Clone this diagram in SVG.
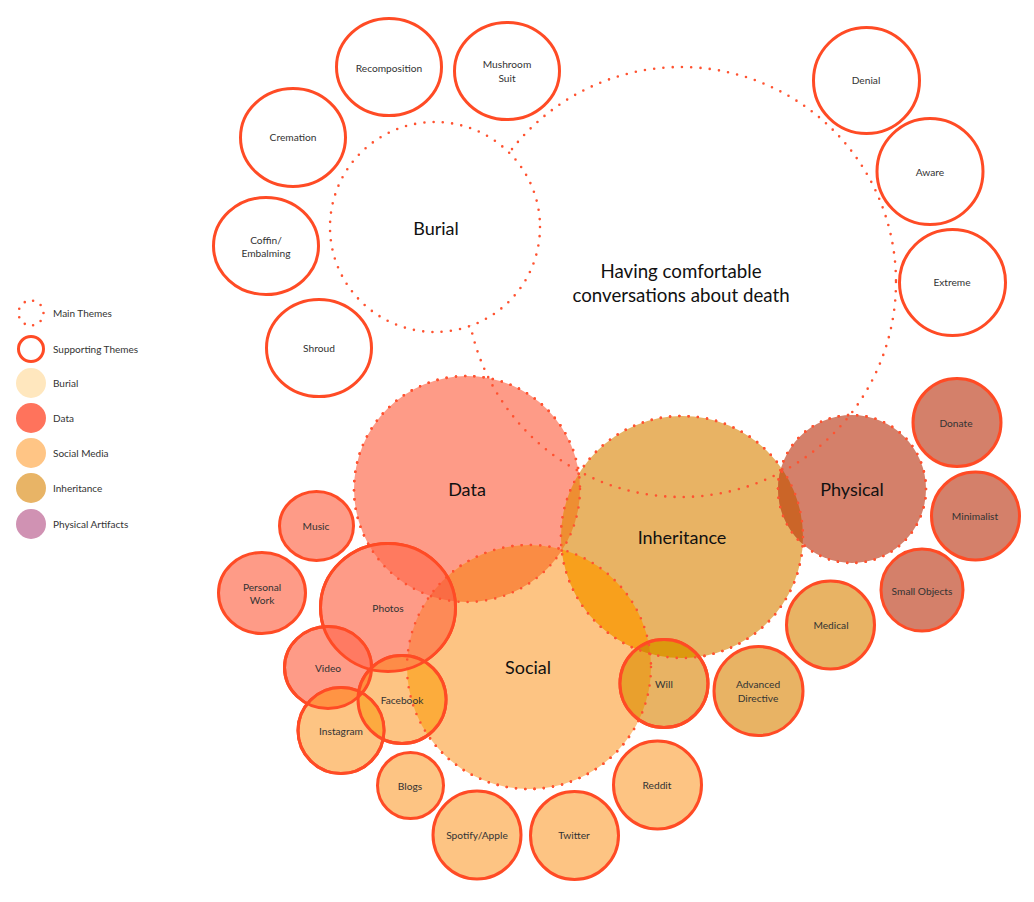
<svg xmlns="http://www.w3.org/2000/svg" width="1034" height="902" viewBox="0 0 1034 902">
<style>
.dot{stroke:#FF5230;stroke-width:2.6;stroke-dasharray:0 9.3;stroke-linecap:round}
.sol{stroke:#FF4B25;stroke-width:3}
.none{fill:none}
.white{fill:#fff}
.fD{fill:#FE9B87}
.fS{fill:#FDC483}
.fI{fill:#E8B364}
.fP{fill:#D4806A}
.lbl{font-family:Lato,"Noto Sans",sans-serif;font-size:10.2px;fill:#333;text-anchor:middle;dominant-baseline:central}
.leg{font-family:Lato,"Noto Sans",sans-serif;font-size:10px;fill:#333;dominant-baseline:central}
.big{font-family:Lato,"Noto Sans",sans-serif;font-size:18px;fill:#111;text-anchor:middle;dominant-baseline:central}
.title{font-family:Lato,"Noto Sans",sans-serif;font-size:18.7px;fill:#111;text-anchor:middle;dominant-baseline:central}
</style>
<defs>
<clipPath id="cD"><circle cx="467" cy="489" r="113"/></clipPath>
<clipPath id="cS"><circle cx="529" cy="667" r="122"/></clipPath>
<clipPath id="cI"><circle cx="682" cy="537" r="121"/></clipPath>
<clipPath id="cPh"><ellipse cx="388" cy="607.5" rx="67.5" ry="64"/></clipPath>
<clipPath id="cV"><ellipse cx="328" cy="667.5" rx="43.5" ry="41"/></clipPath>
<clipPath id="cF"><circle cx="402" cy="699.5" r="44"/></clipPath>
<clipPath id="cColored"><circle cx="467" cy="489" r="113"/><circle cx="682" cy="537" r="121"/><circle cx="852" cy="489" r="74"/></clipPath>
</defs>
<rect width="1034" height="902" fill="#fff"/>

<g id="legend">
<circle cx="31" cy="313" r="12.5" class="white dot" pathLength="90" style="stroke-dasharray:0 10"/>
<text x="53" y="313" class="leg">Main Themes</text>
<circle cx="31" cy="349" r="12.5" class="white sol"/>
<text x="53" y="349" class="leg">Supporting Themes</text>
<circle cx="31" cy="383" r="15" fill="#FFE7BE"/>
<text x="53" y="383" class="leg">Burial</text>
<circle cx="31" cy="418" r="15" fill="#FF735C"/>
<text x="53" y="418" class="leg">Data</text>
<circle cx="31" cy="453" r="15" fill="#FFC585"/>
<text x="53" y="453" class="leg">Social Media</text>
<circle cx="31" cy="488" r="15" fill="#E8B466"/>
<text x="53" y="488" class="leg">Inheritance</text>
<circle cx="31" cy="524" r="15" fill="#D092B3"/>
<text x="53" y="524" class="leg">Physical Artifacts</text>
</g>

<g id="node-main">
<circle cx="681" cy="282" r="215" class="white dot"/>
<text x="681" y="271" class="title">Having comfortable</text>
<text x="681" y="295" class="title">conversations about death</text>
</g>
<g id="node-burial">
<circle cx="435" cy="227" r="105" class="white dot"/>
<text x="436" y="228" class="big">Burial</text>
</g>
<g id="node-recomposition"><ellipse cx="389" cy="67" rx="52.5" ry="48.5" class="white sol"/><text x="389" y="68" class="lbl">Recomposition</text></g>
<g id="node-mushroom"><ellipse cx="507" cy="71" rx="52.5" ry="48.5" class="white sol"/><text x="507" y="64" class="lbl">Mushroom</text><text x="507" y="78" class="lbl">Suit</text></g>
<g id="node-cremation"><ellipse cx="293" cy="137.5" rx="52.5" ry="49" class="white sol"/><text x="293" y="137" class="lbl">Cremation</text></g>
<g id="node-coffin"><ellipse cx="266" cy="246" rx="52.5" ry="48.5" class="white sol"/><text x="266" y="239.5" class="lbl">Coffin/</text><text x="266" y="253" class="lbl">Embalming</text></g>
<g id="node-shroud"><ellipse cx="319" cy="348" rx="52.5" ry="48.5" class="white sol"/><text x="319" y="348" class="lbl">Shroud</text></g>
<g id="node-denial"><circle cx="866.5" cy="80.5" r="53" class="white sol"/><text x="866" y="80" class="lbl">Denial</text></g>
<g id="node-aware"><circle cx="930" cy="171.5" r="53" class="white sol"/><text x="930" y="172" class="lbl">Aware</text></g>
<g id="node-extreme"><circle cx="952.5" cy="282.5" r="53" class="white sol"/><text x="952" y="282" class="lbl">Extreme</text></g>

<g id="node-data">
<circle cx="467" cy="489" r="113" class="fD dot"/>
<text x="467" y="489" class="big">Data</text>
</g>
<g id="node-social">
<circle cx="529" cy="667" r="122" class="fS dot"/>
<circle cx="529" cy="667" r="122" fill="#FA8C44" clip-path="url(#cD)"/>
<text x="528" y="667" class="big">Social</text>
</g>
<g id="node-inheritance">
<circle cx="682" cy="537" r="121" class="fI dot"/>
<circle cx="682" cy="537" r="121" fill="#EE8E32" clip-path="url(#cD)"/>
<circle cx="682" cy="537" r="121" fill="#F8A01C" clip-path="url(#cS)"/>
<g clip-path="url(#cD)"><circle cx="682" cy="537" r="121" fill="#F08224" clip-path="url(#cS)"/></g>
<text x="682" y="537" class="big">Inheritance</text>
</g>
<g id="node-physical">
<circle cx="852" cy="489" r="74" class="fP dot"/>
<circle cx="852" cy="489" r="74" fill="#CB6528" clip-path="url(#cI)"/>
<text x="852" y="489" class="big">Physical</text>
</g>

<g id="node-photos">
<ellipse cx="388" cy="607.5" rx="67.5" ry="64" class="fD sol"/>
<ellipse cx="388" cy="607.5" rx="67.5" ry="64" fill="#FF7A5F" clip-path="url(#cD)"/>
<ellipse cx="388" cy="607.5" rx="67.5" ry="64" fill="#FD8A57" clip-path="url(#cS)"/>
<g clip-path="url(#cD)"><ellipse cx="388" cy="607.5" rx="67.5" ry="64" fill="#FA6C44" clip-path="url(#cS)"/></g>
<text x="388" y="608" class="lbl">Photos</text>
</g>
<g id="node-music"><ellipse cx="316.5" cy="526" rx="37" ry="34.5" class="fD sol"/><text x="316" y="526" class="lbl">Music</text></g>
<g id="node-personal-work"><ellipse cx="262" cy="593" rx="43.5" ry="40.5" class="fD sol"/><text x="262" y="587" class="lbl">Personal</text><text x="262" y="600" class="lbl">Work</text></g>
<g id="node-video">
<ellipse cx="328" cy="667.5" rx="43.5" ry="41" class="fD sol"/>
<ellipse cx="328" cy="667.5" rx="43.5" ry="41" fill="#FF7A62" clip-path="url(#cPh)"/>
<text x="328" y="668" class="lbl">Video</text>
</g>
<g id="node-facebook">
<circle cx="402" cy="699.5" r="44" class="fS sol"/>
<circle cx="402" cy="699.5" r="44" fill="#FCAC3C" clip-path="url(#cS)"/>
<circle cx="402" cy="699.5" r="44" fill="#FD8C48" clip-path="url(#cPh)"/>
<circle cx="402" cy="699.5" r="44" fill="#FF9040" clip-path="url(#cV)"/>
<text x="402" y="700" class="lbl">Facebook</text>
</g>
<g id="node-instagram">
<circle cx="341" cy="730.5" r="43" class="fS sol"/>
<circle cx="341" cy="730.5" r="43" fill="#FF9444" clip-path="url(#cV)"/>
<circle cx="341" cy="730.5" r="43" fill="#FCAA40" clip-path="url(#cF)"/>
<text x="341" y="731" class="lbl">Instagram</text>
</g>
<g id="node-blogs"><circle cx="410.5" cy="785.5" r="33" class="fS sol"/><text x="410" y="786" class="lbl">Blogs</text></g>
<g id="node-spotify"><circle cx="477" cy="835" r="44" class="fS sol"/><text x="477" y="835" class="lbl">Spotify/Apple</text></g>
<g id="node-twitter"><circle cx="574.5" cy="835.5" r="44" class="fS sol"/><text x="574" y="835" class="lbl">Twitter</text></g>
<g id="node-reddit"><circle cx="657.5" cy="785" r="44" class="fS sol"/><text x="657" y="785" class="lbl">Reddit</text></g>

<g id="node-will">
<circle cx="664" cy="683.5" r="44" class="fI sol"/>
<circle cx="664" cy="683.5" r="44" fill="#E9A02D" clip-path="url(#cS)"/>
<circle cx="664" cy="683.5" r="44" fill="#DC990F" clip-path="url(#cI)"/>
<g clip-path="url(#cS)"><circle cx="664" cy="683.5" r="44" fill="#D88A0A" clip-path="url(#cI)"/></g>
<text x="664" y="684" class="lbl">Will</text>
</g>
<g id="node-advanced-directive"><circle cx="758.5" cy="691" r="44.5" class="fI sol"/><text x="758" y="684" class="lbl">Advanced</text><text x="758" y="697.5" class="lbl">Directive</text></g>
<g id="node-medical"><circle cx="830.5" cy="625" r="44" class="fI sol"/><text x="831" y="625" class="lbl">Medical</text></g>
<g id="node-small-objects"><circle cx="922" cy="590" r="41" class="fP sol"/><text x="922" y="591" class="lbl">Small Objects</text></g>
<g id="node-donate"><circle cx="957" cy="422.5" r="44" class="fP sol"/><text x="956" y="423" class="lbl">Donate</text></g>
<g id="node-minimalist"><circle cx="975.5" cy="516" r="44" class="fP sol"/><text x="975" y="516" class="lbl">Minimalist</text></g>

<g id="outline-overlay">
<circle cx="681" cy="282" r="215" class="none dot" clip-path="url(#cColored)"/>
<circle cx="467" cy="489" r="113" class="none dot"/>
<circle cx="529" cy="667" r="122" class="none dot"/>
<circle cx="682" cy="537" r="121" class="none dot"/>
<circle cx="852" cy="489" r="74" class="none dot"/>
<ellipse cx="388" cy="607.5" rx="67.5" ry="64" class="none sol"/>
<ellipse cx="328" cy="667.5" rx="43.5" ry="41" class="none sol"/>
<circle cx="402" cy="699.5" r="44" class="none sol"/>
<circle cx="341" cy="730.5" r="43" class="none sol"/>
<circle cx="664" cy="683.5" r="44" class="none sol"/>
</g>
<g id="connectors"/>
</svg>
